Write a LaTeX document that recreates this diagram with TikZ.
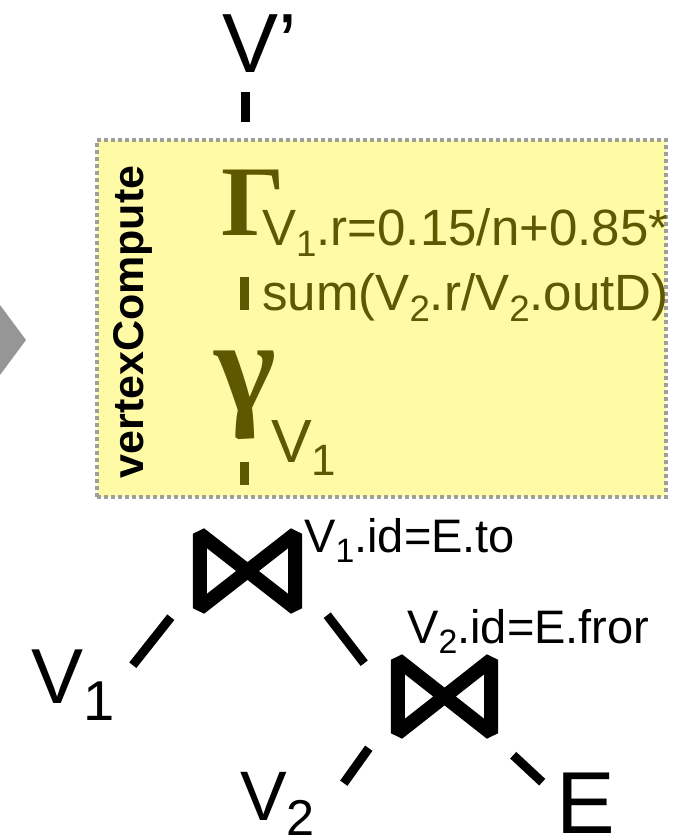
\documentclass[tikz,border=0pt]{standalone}
\usepackage{fontspec}
\setmainfont{Liberation Sans}
\newfontfamily\greekfont{Liberation Serif}
\usepackage{graphicx}
\usepackage{tikz}
\usetikzlibrary{positioning}
\definecolor{cYellow}{RGB}{255,250,165}
\definecolor{cOlive}{RGB}{94,89,0}
\definecolor{cBorder}{RGB}{158,158,158}
\definecolor{cChevron}{RGB}{150,150,150}
\newcommand{\setpx}[1]{\fontsize{#1}{#1}\selectfont}
\newcommand{\sbs}[1]{\raisebox{-0.22em}{\scalebox{0.72}{#1}}}
\tikzset{
	vbox/.style={rectangle, draw=cBorder, fill=cYellow, line width=4.5pt, dash pattern=on 4pt off 3pt, inner sep=0pt},
	lbl/.style={inner sep=0pt, anchor=base west},
	otext/.style={lbl, text=cOlive, font=\setpx{51}},
	tedge/.style={line width=9pt},
	% join symbol helpers
	joinbox/.style={minimum width=109pt, minimum height=88pt, inner sep=0pt},
	bowtie/.style={line width=14pt, line join=bevel},
}

\begin{document}
\begin{tikzpicture}[x=1pt, y=-1pt]
	\useasboundingbox (0,0) rectangle (692,837);
	\fill[cChevron] (0,305) -- (26,340) -- (0,375) -- cycle;

	\node[lbl, font=\setpx{84}] (vp) at (222,73) {V’};
	\draw[tedge] (vp.base west) ++(23,19) -- ++(0,30);

	\node[vbox, minimum width=569pt, minimum height=357pt] (vc) at (381.5,318.5) {};
	\node[rotate=90, inner sep=0pt, font=\bfseries\setpx{43}] (vname) at (133,322) {vertexCompute};

	\node[lbl, anchor=base, text=cOlive, font=\greekfont\bfseries\setpx{100}] (gam) at (253,235) {Γ};
	\node[otext] (rowa) at (262,245) {V\sbs{1}.r=0.15/n+0.85*};
	\node[otext] (rowb) at (262,310) {sum(V\sbs{2}.r/V\sbs{2}.outD)};
	\draw[tedge, cOlive] (gam.base) ++(-9,42) -- ++(0,33);

	\node[lbl, anchor=base, text=cOlive, font=\greekfont\bfseries\setpx{132}] (gmm) at (245,411) {γ};
	\node[otext, font=\setpx{61}] (gsub) at (271,462) {V\sbs{1}};
	\draw[tedge, cOlive] (gmm.base) ++(-1,51) -- ++(0,23);

	\node[joinbox] (j1) at (247.5,571) {};
	\node[joinbox, minimum width=107pt, minimum height=87pt] (j2) at (444.5,696.5) {};
	\foreach \j in {j1,j2}
		\draw[bowtie] ([shift={(7,7)}]\j.north west) -- ([shift={(7,-7)}]\j.south west) -- ([shift={(-7,7)}]\j.north east) -- ([shift={(-7,-7)}]\j.south east) -- cycle;

	\node[lbl, font=\setpx{47}] (c1) at (304,552) {V\sbs{1}.id=E.to};
	\node[lbl, font=\setpx{47}] (c2) at (407,643) {V\sbs{2}.id=E.fror};

	\node[lbl, font=\setpx{78}] (v1) at (31,703) {V\sbs{1}};
	\node[lbl, font=\setpx{70}] (v2) at (240,820) {V\sbs{2}};
	\node[lbl, font=\setpx{88}] (e) at (556,833) {E};

	\draw[tedge] (j1.south west) ++(-22,2) -- ++(-38,48);
	\draw[tedge] (j1.south east) ++(25,0) -- ++(37,48);
	\draw[tedge] (j2.south west) ++(-22,8) -- ++(-25,35);
	\draw[tedge] (j2.south east) ++(15,15) -- ++(29,27);
\end{tikzpicture}
\end{document}
